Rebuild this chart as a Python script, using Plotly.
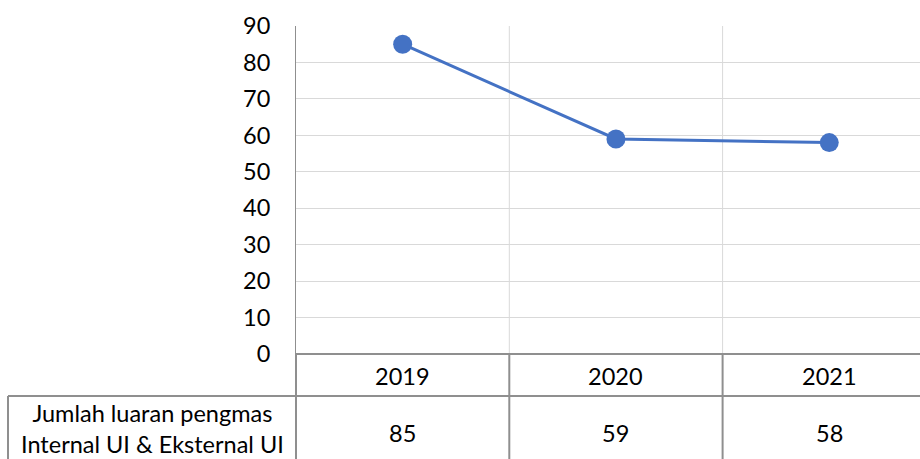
import plotly.graph_objects as go

years = ["2019", "2020", "2021"]
values = [85, 59, 58]
series_label = ["Jumlah luaran pengmas", "Internal UI & Eksternal UI"]
y_ticks = [0, 10, 20, 30, 40, 50, 60, 70, 80, 90]

W, H = 920, 459
ML, MR, MT, MB = 296, 0, 26, 105
xmin, xmax = -0.5, -0.5 + (W - ML) / 213.3
FONT = "Lato, Liberation Sans, sans-serif"
FS = 23.5
LINE = "#4472C4"
GRID = "#d9d9d9"
TBL = "#8f8f8f"

ph = H - MT - MB
pw = W - ML - MR


def px_x(p):
    return (p - ML) / pw


def px_y(p):
    return (H - MB - p) / ph


def cx(c):
    return (c - xmin) / (xmax - xmin)


fig = go.Figure()
fig.add_trace(go.Scatter(
    x=list(range(len(years))), y=values, mode="lines+markers",
    line=dict(color=LINE, width=3),
    marker=dict(color=LINE, size=19),
    cliponaxis=False, showlegend=False,
))

shapes = []
for i in range(1, len(years)):
    shapes.append(dict(type="line", xref="paper", yref="paper",
                       x0=cx(i - 0.5), x1=cx(i - 0.5), y0=0, y1=1,
                       line=dict(color=GRID, width=1), layer="below"))
shapes.append(dict(type="line", xref="paper", yref="paper", x0=0, x1=1,
                   y0=0, y1=0, line=dict(color=TBL, width=2)))
shapes.append(dict(type="line", xref="paper", yref="paper", x0=px_x(8), x1=1,
                   y0=px_y(396), y1=px_y(396), line=dict(color=TBL, width=2)))
shapes.append(dict(type="line", xref="paper", yref="paper", x0=px_x(8), x1=px_x(8),
                   y0=px_y(396), y1=px_y(460), line=dict(color=TBL, width=2)))
for i in range(len(years)):
    xb = cx(i - 0.5)
    shapes.append(dict(type="line", xref="paper", yref="paper", x0=xb, x1=xb,
                       y0=0, y1=px_y(460), line=dict(color=TBL, width=2)))

annotations = []
for i, (yr, v) in enumerate(zip(years, values)):
    annotations.append(dict(xref="paper", yref="paper", x=cx(i), y=px_y(376),
                            text=yr, showarrow=False, xanchor="center", yanchor="middle",
                            font=dict(family=FONT, size=FS, color="#000")))
    annotations.append(dict(xref="paper", yref="paper", x=cx(i), y=px_y(433),
                            text=str(v), showarrow=False, xanchor="center", yanchor="middle",
                            font=dict(family=FONT, size=FS, color="#000")))
annotations.append(dict(xref="paper", yref="paper", x=px_x(152), y=px_y(428),
                        text="<br>".join(series_label), showarrow=False,
                        xanchor="center", yanchor="middle", align="center",
                        font=dict(family=FONT, size=FS, color="#000")))

fig.update_layout(
    width=W, height=H,
    margin=dict(l=ML, r=MR, t=MT, b=MB),
    paper_bgcolor="white", plot_bgcolor="white",
    shapes=shapes, annotations=annotations,
    xaxis=dict(range=[xmin, xmax], showgrid=False, zeroline=False,
               showticklabels=False, showline=False, fixedrange=True),
    yaxis=dict(range=[0, 90], tickvals=y_ticks, showgrid=True, gridcolor=GRID,
               gridwidth=1, zeroline=False, showline=True, linecolor=TBL, linewidth=1,
               ticks="", ticklabelstandoff=20,
               tickfont=dict(family=FONT, size=FS, color="#000")),
)

fig.write_html("out.html", config={"displayModeBar": False},
               post_script="document.body.style.margin='0';document.body.style.overflow='hidden';")
